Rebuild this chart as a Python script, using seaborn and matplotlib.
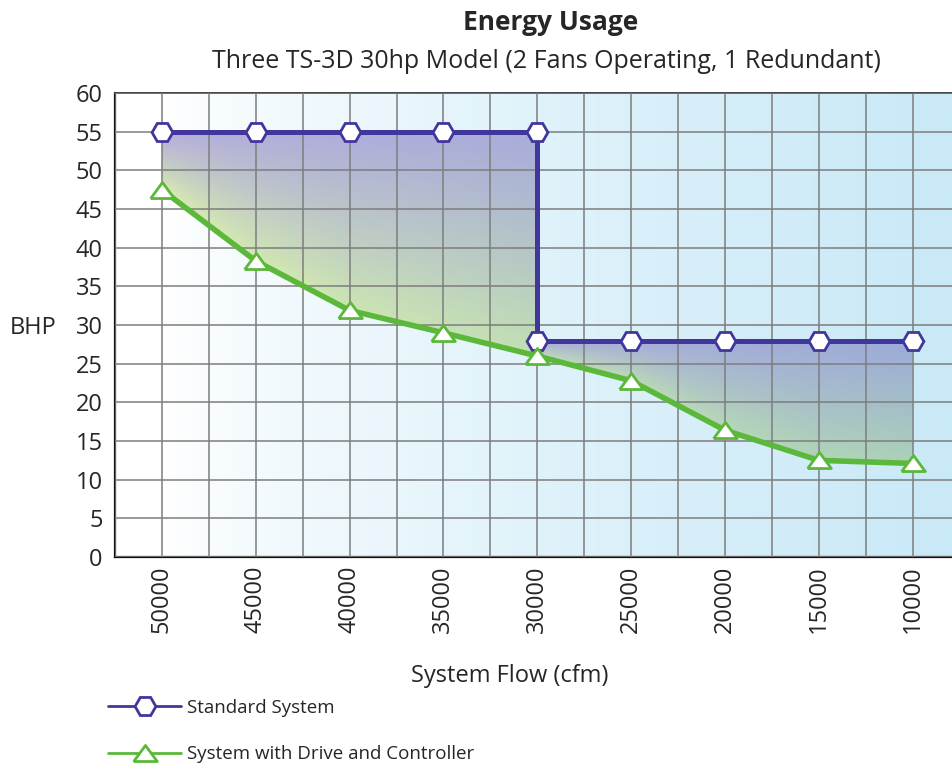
import numpy as np
import matplotlib
matplotlib.use("Agg")
import matplotlib.pyplot as plt
from matplotlib.lines import Line2D
from matplotlib.colors import to_rgb
import seaborn as sns

# data
flow_standard = [50000, 45000, 40000, 35000, 30000, 30000, 25000, 20000, 15000, 10000]
bhp_standard = [55, 55, 55, 55, 55, 28, 28, 28, 28, 28]
flow_drive = [50000, 45000, 40000, 35000, 30000, 25000, 20000, 15000, 10000]
bhp_drive = [47.5, 38.3, 31.9, 29.0, 26.0, 22.8, 16.4, 12.5, 12.1]
flow_ticks = [50000, 45000, 40000, 35000, 30000, 25000, 20000, 15000, 10000]
bhp_ticks = [0, 5, 10, 15, 20, 25, 30, 35, 40, 45, 50, 55, 60]

label_standard = "Standard System"
label_drive = "System with Drive and Controller"

PURPLE = "#41369c"
GREEN = "#5cb83a"

sns.set_style("white")
plt.rcParams["font.family"] = ["Open Sans", "DejaVu Sans"]

fig = plt.figure(figsize=(9.52, 7.64), dpi=100)
ax = fig.add_axes([0.1208, 0.271, 0.8792, 0.607])

x_left, x_right = 52500, 7900
ax.set_xlim(x_left, x_right)
ax.set_ylim(0, 60)

# background: white on the left fading to light blue on the right
W, H = 400, 300
xs = np.linspace(0, 1, W)
ramp = np.clip((xs - 0.06) / 0.94, 0, 1) ** 0.75
c0, c1 = np.array(to_rgb("#ffffff")), np.array(to_rgb("#c9e9f7"))
bg = c0[None, None, :] + (c1 - c0)[None, None, :] * ramp[None, :, None]
bg = np.repeat(bg, H, axis=0)
ax.imshow(bg, extent=(x_left, x_right, 0, 60), aspect="auto", zorder=0,
          interpolation="bilinear")

# gradient fill between the two curves
gx = np.linspace(x_left, x_right, W)
gy = np.linspace(60, 0, H)
XX, YY = np.meshgrid(gx, gy)
top = np.interp(XX, flow_standard[::-1], bhp_standard[::-1])
bot = np.interp(XX, flow_drive[::-1], bhp_drive[::-1])
t = np.clip((top - YY) / np.maximum(top - bot, 1e-6), 0, 1)[..., None]
xf = np.clip((50000 - XX) / 40000, 0, 1)[..., None]
top_c = np.array(to_rgb("#b4aedb")) * (1 - xf) + np.array(to_rgb("#9dabd9")) * xf
bot_c = np.array(to_rgb("#d8ecb0")) * (1 - xf) + np.array(to_rgb("#abd2b8")) * xf
fill = top_c * (1 - t ** 1.1) + bot_c * t ** 1.1
poly_pts = list(zip(flow_standard, bhp_standard)) + list(zip(flow_drive, bhp_drive))[::-1]
patch = plt.Polygon(poly_pts, closed=True, facecolor="none", edgecolor="none",
                    transform=ax.transData)
ax.add_patch(patch)
img = ax.imshow(fill, extent=(x_left, x_right, 0, 60), aspect="auto", zorder=1,
                interpolation="bilinear")
img.set_clip_path(patch)

# grid
ax.set_axisbelow(False)
ax.set_xticks(flow_ticks)
ax.set_xticks([f + 2500 for f in flow_ticks], minor=True)
ax.set_yticks(bhp_ticks)
ax.grid(True, which="both", axis="x", color="#7d7d7d", lw=1.1)
ax.grid(True, which="major", axis="y", color="#7d7d7d", lw=1.1)

tri = [(-1, -0.68), (0, 0.68), (1, -0.68), (-1, -0.68)]

sns.lineplot(x=flow_standard, y=bhp_standard, sort=False, estimator=None, ax=ax,
             color=PURPLE, lw=3.6, marker="H", markersize=15,
             markerfacecolor="white", markeredgecolor=PURPLE, markeredgewidth=2,
             zorder=4)
sns.lineplot(x=flow_drive, y=bhp_drive, sort=False, estimator=None, ax=ax,
             color=GREEN, lw=4, marker=tri, markersize=17,
             markerfacecolor="white", markeredgecolor=GREEN, markeredgewidth=2,
             zorder=5)

ax.set_xticklabels([str(f) for f in flow_ticks], rotation=90, fontsize=17)
ax.set_yticklabels([str(b) for b in bhp_ticks], fontsize=17)
ax.tick_params(axis="x", which="major", length=0, pad=6)
ax.tick_params(axis="x", which="minor", length=9, width=1.1, color="#7d7d7d")
ax.tick_params(axis="y", length=0, pad=9)
ax.set_xlabel("")
ax.set_ylabel("")

for side in ["left", "bottom"]:
    ax.spines[side].set_color("#111111")
    ax.spines[side].set_linewidth(1.6)
ax.spines["top"].set_color("#444444")
ax.spines["top"].set_linewidth(1.4)
ax.spines["right"].set_visible(False)

fig.text(551 / 952, 1 - 23 / 764, "Energy Usage", ha="center", va="center",
         fontsize=19, fontweight="bold")
fig.text(546 / 952, 1 - 61 / 764,
         "Three TS-3D 30hp Model (2 Fans Operating, 1 Redundant)",
         ha="center", va="center", fontsize=18)
fig.text(33 / 952, 1 - 328 / 764, "BHP", ha="center", va="center", fontsize=17)
fig.text(510 / 952, 1 - 676 / 764, "System Flow (cfm)", ha="center", va="center",
         fontsize=17)

handles = [
    Line2D([], [], color=PURPLE, lw=2, marker="H", markersize=15,
           markerfacecolor="white", markeredgecolor=PURPLE, markeredgewidth=2),
    Line2D([], [], color=GREEN, lw=2, marker=tri, markersize=17,
           markerfacecolor="white", markeredgecolor=GREEN, markeredgewidth=2),
]
fig.legend(handles, [label_standard, label_drive], loc="upper left",
           bbox_to_anchor=(108 / 952, 1 - 699 / 764), frameon=False,
           fontsize=13.5, handlelength=3.9, handletextpad=0.3, labelspacing=1.5,
           borderpad=0, borderaxespad=0)

fig.savefig("out.png", dpi=100)
